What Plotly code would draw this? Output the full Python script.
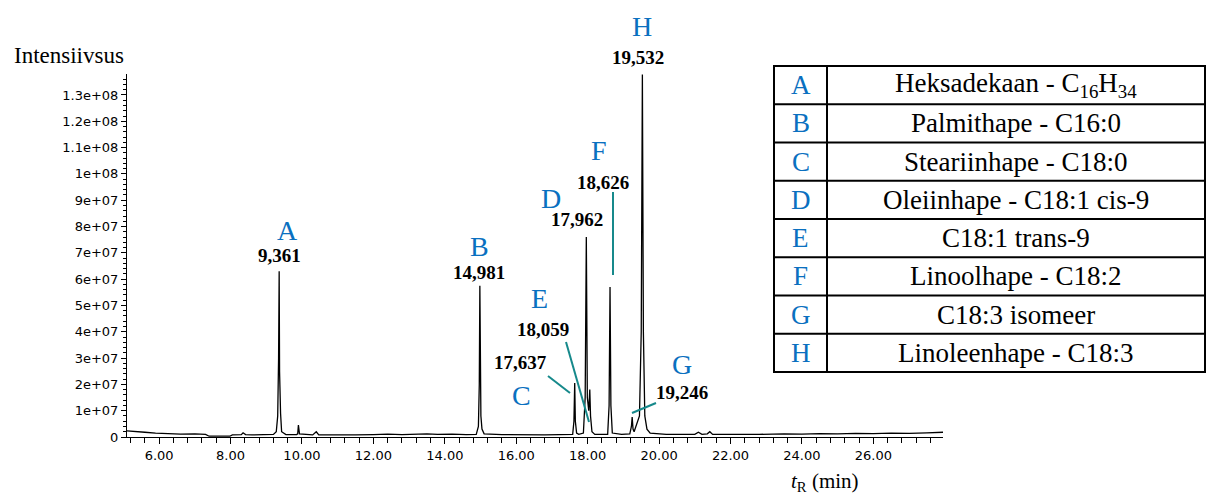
import plotly.graph_objects as go

# ---------------- data ----------------
rt_min = [5.10, 5.30, 5.60, 5.90, 6.20, 6.60, 7.00, 7.30, 7.40, 7.98, 8.05, 8.30, 8.35, 8.42, 8.60,
          9.00, 9.20, 9.28, 9.32, 9.345, 9.361, 9.372, 9.385, 9.40, 9.43, 9.55,
          9.85, 9.88, 9.90, 9.93, 10.30, 10.40, 10.47, 11.00, 11.50, 12.00, 12.40, 12.80,
          13.20, 13.50, 13.80, 14.20, 14.60,
          14.88, 14.94, 14.965, 14.981, 14.995, 15.01, 15.04, 15.10, 15.60, 16.00, 16.40, 16.80,
          17.20, 17.50, 17.58, 17.615, 17.637, 17.655, 17.69, 17.75,
          17.88, 17.93, 17.962, 17.99, 18.03, 18.059, 18.08, 18.12, 18.20,
          18.56, 18.60, 18.626, 18.65, 18.69, 18.95,
          19.18, 19.225, 19.246, 19.27, 19.30, 19.35, 19.45, 19.50, 19.532, 19.56, 19.60, 19.66, 19.75,
          20.20, 20.80, 21.00, 21.10, 21.20, 21.35, 21.42, 21.50, 22.00, 22.80, 23.50, 24.00,
          24.50, 25.00, 25.50, 26.00, 26.50, 27.00, 27.50, 27.95]
intensity = [2.3e6, 2.0e6, 1.8e6, 1.5e6, 1.3e6, 1.1e6, 1.2e6, 1.0e6, 0.3e6, 0.3e6, 0.8e6, 0.9e6, 1.6e6, 0.9e6, 0.8e6,
             0.8e6, 1.0e6, 2.0e6, 8.0e6, 3.0e7, 6.3e7, 2.5e7, 1.2e7, 9.0e6, 2.0e6, 0.9e6,
             0.9e6, 1.2e6, 4.5e6, 1.2e6, 0.8e6, 2.0e6, 0.8e6, 0.7e6, 0.8e6, 0.9e6, 1.1e6, 0.9e6,
             1.1e6, 1.2e6, 1.0e6, 1.1e6, 0.9e6,
             1.0e6, 4.0e6, 2.0e7, 5.75e7, 2.0e7, 8.0e6, 3.0e6, 1.2e6, 0.9e6, 0.8e6, 0.9e6, 0.8e6,
             0.9e6, 0.9e6, 1.0e6, 6.0e6, 2.05e7, 6.0e6, 1.5e6, 1.0e6,
             1.5e6, 1.5e7, 7.6e7, 1.5e7, 1.0e7, 1.8e7, 8.0e6, 2.0e6, 1.0e6,
             1.0e6, 1.2e7, 5.7e7, 1.2e7, 1.5e6, 1.0e6,
             1.2e6, 4.0e6, 7.6e6, 3.0e6, 2.0e6, 4.0e6, 8.0e6, 4.0e7, 1.378e8, 4.0e7, 8.0e6, 3.0e6, 1.5e6,
             1.0e6, 0.9e6, 1.0e6, 1.8e6, 1.0e6, 1.2e6, 2.0e6, 1.0e6, 0.9e6, 1.0e6, 1.2e6, 1.1e6,
             1.3e6, 1.2e6, 1.4e6, 1.3e6, 1.5e6, 1.4e6, 1.6e6, 1.8e6]

peak_letters = ["A", "B", "C", "D", "E", "F", "G", "H"]
peak_rt_labels = ["9,361", "14,981", "17,637", "17,962", "18,059", "18,626", "19,246", "19,532"]
compound_names = ["Heksadekaan - C<sub>16</sub>H<sub>34</sub>", "Palmithape - C16:0",
                  "Steariinhape - C18:0", "Oleiinhape - C18:1 cis-9", "C18:1 trans-9",
                  "Linoolhape - C18:2", "C18:3 isomeer", "Linoleenhape - C18:3"]

x_tick_values = [6, 8, 10, 12, 14, 16, 18, 20, 22, 24, 26]
x_tick_text = ["6.00", "8.00", "10.00", "12.00", "14.00", "16.00", "18.00", "20.00",
               "22.00", "24.00", "26.00"]
y_tick_values = [0, 1e7, 2e7, 3e7, 4e7, 5e7, 6e7, 7e7, 8e7, 9e7, 1e8, 1.1e8, 1.2e8, 1.3e8]
y_tick_text = ["0", "1e+07", "2e+07", "3e+07", "4e+07", "5e+07", "6e+07", "7e+07", "8e+07",
               "9e+07", "1e+08", "1.1e+08", "1.2e+08", "1.3e+08"]

# ---------------- layout geometry (pixels) ----------------
W, H = 1206, 494
L, R, T, B = 127, 943, 74, 437
X_RANGE = [5.1, 27.95]
Y_RANGE = [0, (B - T) / 26.31 * 1e7]

def px(x):
    return (x - L) / (R - L)

def py(y):
    return (B - y) / (B - T)

SERIF = "Liberation Serif"
BLUE = "#0a70c0"
TEAL = "#16898b"

letter_pos = {"A": (287, 230), "B": (479, 246), "C": (521, 395), "D": (551, 198),
              "E": (539, 298), "F": (599, 150), "G": (682, 364), "H": (642, 26)}
number_pos = [(279, 255), (479, 272), (520, 362), (577, 220), (543, 329), (603, 182),
              (682, 392), (638, 57)]
leaders = [((548, 376), (570, 393)), ((566, 342), (589, 422)),
           ((613, 192), (613, 275)), ((632, 413), (656, 403))]

fig = go.Figure()
fig.add_trace(go.Scatter(x=rt_min, y=intensity, mode="lines",
                         line=dict(color="black", width=1.3), hoverinfo="skip",
                         showlegend=False))

annotations = []
for lt in peak_letters:
    x0, y0 = letter_pos[lt]
    annotations.append(dict(x=px(x0), y=py(y0), xref="paper", yref="paper", text=lt,
                            showarrow=False, xanchor="center", yanchor="middle",
                            font=dict(family=SERIF, size=28, color=BLUE)))
for lbl, (x0, y0) in zip(peak_rt_labels, number_pos):
    annotations.append(dict(x=px(x0), y=py(y0), xref="paper", yref="paper",
                            text="<b>" + lbl + "</b>", showarrow=False,
                            xanchor="center", yanchor="middle",
                            font=dict(family=SERIF, size=19, color="black")))

annotations.append(dict(x=px(12), y=py(55), xref="paper", yref="paper", text="Intensiivsus",
                        showarrow=False, xanchor="left", yanchor="middle",
                        font=dict(family=SERIF, size=23, color="black")))
annotations.append(dict(x=px(825), y=py(482), xref="paper", yref="paper",
                        text="<i>t</i><sub>R</sub> (min)", showarrow=False,
                        xanchor="center", yanchor="middle",
                        font=dict(family=SERIF, size=21, color="black")))

shapes = []
for (a, b) in leaders:
    shapes.append(dict(type="line", xref="paper", yref="paper",
                       x0=px(a[0]), y0=py(a[1]), x1=px(b[0]), y1=py(b[1]),
                       line=dict(color=TEAL, width=2)))

# legend table
TL, TC, TR, TT, TB = 774, 827, 1205, 66, 372
row_h = (TB - TT) / len(peak_letters)
shapes.append(dict(type="rect", xref="paper", yref="paper", x0=px(TL), x1=px(TR),
                   y0=py(TT), y1=py(TB), line=dict(color="black", width=2)))
shapes.append(dict(type="line", xref="paper", yref="paper", x0=px(TC), x1=px(TC),
                   y0=py(TT), y1=py(TB), line=dict(color="black", width=2)))
for k in range(1, len(peak_letters)):
    yy = TT + k * row_h
    shapes.append(dict(type="line", xref="paper", yref="paper", x0=px(TL), x1=px(TR),
                       y0=py(yy), y1=py(yy), line=dict(color="black", width=2)))
for k, (lt, name) in enumerate(zip(peak_letters, compound_names)):
    yc = TT + (k + 0.5) * row_h
    annotations.append(dict(x=px((TL + TC) / 2), y=py(yc), xref="paper", yref="paper",
                            text=lt, showarrow=False, xanchor="center", yanchor="middle",
                            font=dict(family=SERIF, size=27, color=BLUE)))
    annotations.append(dict(x=px((TC + TR) / 2), y=py(yc), xref="paper", yref="paper",
                            text=name, showarrow=False, xanchor="center", yanchor="middle",
                            font=dict(family=SERIF, size=27, color="black")))

fig.update_layout(
    width=W, height=H,
    margin=dict(l=L, r=W - R, t=T, b=H - B, pad=0),
    paper_bgcolor="white", plot_bgcolor="white",
    showlegend=False,
    annotations=annotations, shapes=shapes,
    xaxis=dict(range=X_RANGE, tickvals=x_tick_values, ticktext=x_tick_text,
               showgrid=False, zeroline=False, showline=True, linecolor="black", linewidth=1,
               ticks="outside", ticklen=6, tickcolor="black", tickwidth=1,
               tickfont=dict(family="DejaVu Sans", size=13, color="black"),
               minor=dict(dtick=0.4, tick0=6, ticks="outside", ticklen=5,
                          tickcolor="black", showgrid=False)),
    yaxis=dict(range=Y_RANGE, tickvals=y_tick_values, ticktext=y_tick_text,
               showgrid=False, zeroline=False, showline=True, linecolor="black", linewidth=1,
               ticks="outside", ticklen=5, tickcolor="black", tickwidth=1,
               tickfont=dict(family="DejaVu Sans", size=13, color="black"),
               minor=dict(dtick=2e6, tick0=0, ticks="outside", ticklen=3,
                          tickcolor="black", showgrid=False)),
)

fig.write_html("out.html")
